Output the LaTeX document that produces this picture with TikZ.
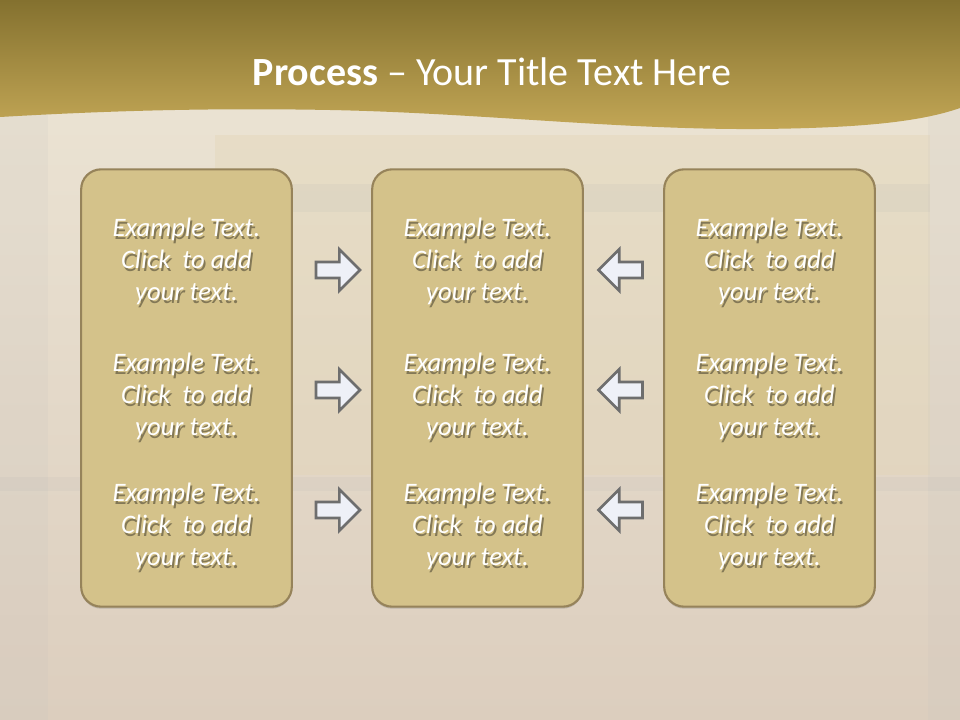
\documentclass[tikz,border=0pt]{standalone}
\usepackage{fontspec}
\setmainfont{Carlito}
\usetikzlibrary{shapes.arrows,shadows}

\definecolor{bandtop}{HTML}{84712F}
\definecolor{bandbot}{HTML}{C3A756}
\definecolor{boxfill}{HTML}{D4C28A}
\definecolor{boxline}{HTML}{96835A}
\definecolor{arrline}{HTML}{6E6E6E}
\definecolor{arrfill}{HTML}{EEF0F7}
\definecolor{paper}{HTML}{EDE6D6}
\definecolor{paperlow}{HTML}{DCCEBE}
\definecolor{paperwarm}{HTML}{E2D5B3}
\colorlet{txtshade}{boxfill!62!black}

% one line of text with its shadow
\newcommand{\shline}[1]{\leavevmode\rlap{\kern1.3pt\raisebox{-1.7pt}{\color{txtshade}#1}}#1}
\newcommand{\blocktext}{\shline{Example Text.}\\\shline{Click\ \ to add}\\\shline{your text.}}

\begin{document}
\begin{tikzpicture}[
    x=0.75pt, y=-0.75pt,
    procbox/.style={draw=boxline, fill=boxfill, line width=1.6pt,
        rounded corners=15pt, minimum width=158pt, minimum height=328pt,
        drop shadow={shadow xshift=0pt, shadow yshift=-1.5pt, opacity=0.35}},
    txtbody/.style={text=white, align=center,
        font=\fontsize{20}{24}\selectfont\itshape},
    titletxt/.style={text=white, font=\fontsize{30}{34}\selectfont},
    blockarrow/.style={single arrow, draw=arrline, fill=arrfill,
        line width=2pt, minimum height=33pt, inner xsep=0pt,
        inner ysep=5pt, single arrow head extend=9.5pt},
    leftarrow/.style={blockarrow, shape border rotate=180}
]
\useasboundingbox (0,0) rectangle (960,720);

% paper background
\shade[top color=paper, bottom color=paperlow] (0,0) rectangle (960,720);
\fill[paperwarm, opacity=0.35] (215,135) rectangle (930,475);
\fill[gray!50, opacity=0.12] (0,0) rectangle (48,720);
\fill[gray!50, opacity=0.12] (928,0) rectangle (960,720);
\fill[gray!60, opacity=0.12] (215,184) rectangle (930,212);
\fill[gray!60, opacity=0.12] (0,477) rectangle (960,491);

% title band
\shade[top color=bandtop, bottom color=bandbot]
    (0,0) -- (960,0) -- (960,108)
    .. controls (920,122) and (860,128) .. (760,129)
    .. controls (620,130) and (480,113) .. (330,110)
    .. controls (220,108) and (120,110) .. (0,117) -- cycle;
\node[titletxt, anchor=base] (title) at (492,86)
    {\textbf{Process} – Your Title Text Here};

% boxes
\node[procbox] (left) at (186.5,388) {};
\node[procbox] (mid) at (477.5,388) {};
\node[procbox] (right) at (769.5,388) {};

\node[txtbody] (l1) at (186.5,263) {\blocktext};
\node[txtbody] (l2) at (186.5,398) {\blocktext};
\node[txtbody] (l3) at (186.5,528) {\blocktext};
\node[txtbody] (m1) at (477.5,263) {\blocktext};
\node[txtbody] (m2) at (477.5,398) {\blocktext};
\node[txtbody] (m3) at (477.5,528) {\blocktext};
\node[txtbody] (r1) at (769.5,263) {\blocktext};
\node[txtbody] (r2) at (769.5,398) {\blocktext};
\node[txtbody] (r3) at (769.5,528) {\blocktext};

% arrows
\node[blockarrow] (a1) at (334,270) {};
\node[blockarrow] (a2) at (334,390) {};
\node[blockarrow] (a3) at (334,510) {};
\node[leftarrow] (b1) at (624.5,270) {};
\node[leftarrow] (b2) at (624.5,390) {};
\node[leftarrow] (b3) at (624.5,510) {};
\end{tikzpicture}
\end{document}
